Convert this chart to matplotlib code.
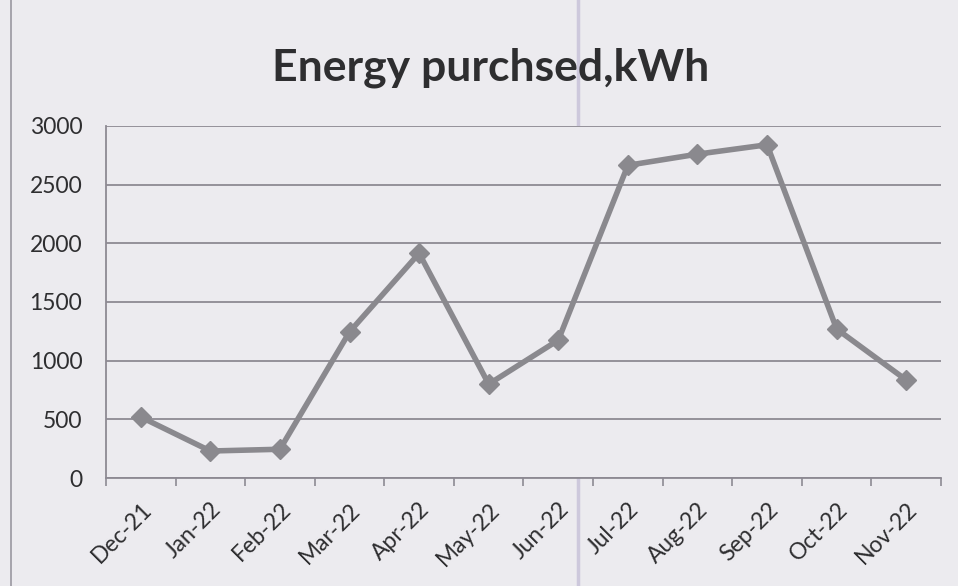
import matplotlib
matplotlib.use("Agg")
import matplotlib.pyplot as plt
from matplotlib.lines import Line2D

# monthly energy purchased
months = ["Dec-21", "Jan-22", "Feb-22", "Mar-22", "Apr-22", "May-22",
          "Jun-22", "Jul-22", "Aug-22", "Sep-22", "Oct-22", "Nov-22"]
energy_kwh = [520, 230, 245, 1245, 1915, 800, 1175, 2665, 2760, 2840, 1270, 835]
y_ticks = [0, 500, 1000, 1500, 2000, 2500, 3000]

paper = "#ecebef"
grid_col = "#8d8a93"
line_col = "#8a898e"
text_col = "#2e2e30"

plt.rcParams['font.family'] = ['Lato', 'DejaVu Sans']

fig = plt.figure(figsize=(9.58, 5.86), dpi=100)
fig.patch.set_facecolor(paper)
ax = fig.add_axes([0.1106, 0.1843, 0.8717, 0.6007])
ax.set_facecolor(paper)

x = [i + 0.5 for i in range(len(months))]
ax.plot(x, energy_kwh, color=line_col, lw=4, marker="D", ms=10,
        mec=line_col, mfc=line_col, zorder=3)

ax.set_xlim(0, len(months))
ax.set_ylim(0, 3000)
ax.set_yticks(y_ticks)
ax.set_yticklabels([str(v) for v in y_ticks], fontsize=16.5, color=text_col)
ax.grid(axis="y", color=grid_col, lw=1.3)
ax.set_axisbelow(True)

ax.set_xticks(range(len(months) + 1), minor=False)
ax.set_xticklabels([""] * (len(months) + 1))
ax.set_xticks(x, minor=True)
ax.set_xticklabels(months, minor=True, rotation=45, ha="right",
                   rotation_mode="anchor", fontsize=16.5, color=text_col)
ax.tick_params(axis="x", which="major", length=6, color=grid_col, width=1.2)
ax.tick_params(axis="x", which="minor", length=0, pad=15)
ax.tick_params(axis="y", length=0, pad=17)

for s in ["top", "right"]:
    ax.spines[s].set_visible(False)
ax.spines["left"].set_color(grid_col)
ax.spines["bottom"].set_color(grid_col)
ax.spines["left"].set_linewidth(1.3)
ax.spines["bottom"].set_linewidth(1.3)

# left frame of the chart area and the scan crease
fig.add_artist(Line2D([0.011, 0.011], [0, 1], color="#9a98a0", lw=1.2,
                      transform=fig.transFigure))
fig.add_artist(Line2D([0.603, 0.603], [0, 1], color="#cdc8dc", lw=2.5,
                      transform=fig.transFigure, zorder=0))

fig.text(0.512, 0.885, "Energy purchsed,kWh", ha="center", va="center",
         fontsize=32, fontweight="bold", color=text_col)

fig.savefig("out.png", dpi=100, facecolor=paper)
